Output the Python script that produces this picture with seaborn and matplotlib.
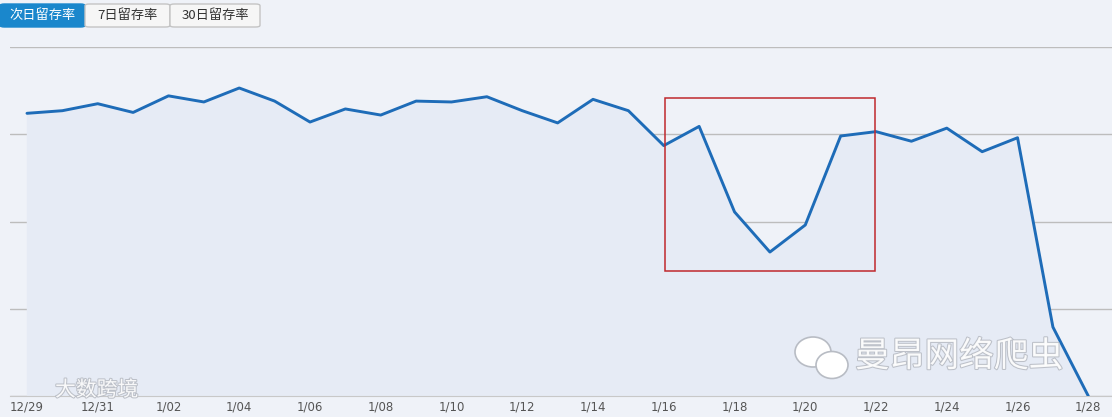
import numpy as np
import pandas as pd
import matplotlib
matplotlib.use('Agg')
import matplotlib.pyplot as plt
import matplotlib.patheffects as pe
from matplotlib.patches import Rectangle, FancyBboxPatch, Ellipse
import seaborn as sns

# data (y axis labels are cut off, units arbitrary 0-40)
dates = ['12/29', '12/30', '12/31', '1/01', '1/02', '1/03', '1/04', '1/05', '1/06', '1/07',
         '1/08', '1/09', '1/10', '1/11', '1/12', '1/13', '1/14', '1/15', '1/16', '1/17',
         '1/18', '1/19', '1/20', '1/21', '1/22', '1/23', '1/24', '1/25', '1/26', '1/27', '1/28']
retention = [32.4, 32.7, 33.5, 32.5, 34.4, 33.7, 35.3, 33.8, 31.4, 32.9,
             32.2, 33.8, 33.7, 34.3, 32.7, 31.3, 34.0, 32.7, 28.7, 30.9,
             21.1, 16.5, 19.6, 29.8, 30.3, 29.2, 30.7, 28.0, 29.6, 7.9, 0.0]
tabs = ['次日留存率', '7日留存率', '30日留存率']
y_grid = [0, 10, 20, 30, 40]

df = pd.DataFrame({'day': np.arange(len(dates)), 'value': retention})

sns.set_style('white')
plt.rcParams['font.family'] = ['Noto Sans CJK SC', 'DejaVu Sans']

fig = plt.figure(figsize=(11.12, 4.17), dpi=100)
fig.patch.set_facecolor('#eff2f8')
ax = fig.add_axes([10 / 1112, 21 / 417, 1102 / 1112, 349 / 417])
ax.set_facecolor('#eff2f8')

ax.fill_between(df['day'], df['value'], 0, color='#e6ebf5', zorder=1)
sns.lineplot(data=df, x='day', y='value', ax=ax, color='#1e6cb8', linewidth=2.1, zorder=3)

ax.set_xlim(-0.48, 30.67)
ax.set_ylim(0, 40)
ax.set_yticks(y_grid)
ax.set_yticklabels([])
ax.grid(axis='y', color='#bdbdbd', linewidth=1)
ax.tick_params(axis='y', length=0)
ax.set_xticks(df['day'][::2])
ax.set_xticklabels(dates[::2], fontsize=8.5, color='#555555', family='DejaVu Sans')
ax.tick_params(axis='x', length=3, color='#c8c8c8', pad=3, direction='in')
ax.set_xlabel('')
ax.set_ylabel('')
for side in ['top', 'right', 'left']:
    ax.spines[side].set_visible(False)
ax.spines['bottom'].set_color('#c8c8c8')

# red highlight box around the dip
ax.add_patch(Rectangle((18.04, 14.33), 5.93, 19.82, fill=False, edgecolor='#c0282d', linewidth=1.1, zorder=4))

# tab buttons on top
tab_x = [0, 85, 170]
tab_w = [85, 85, 90]
for i, t in enumerate(tabs):
    active = i == 0
    box = FancyBboxPatch((tab_x[i] / 1112, 1 - 27 / 417), tab_w[i] / 1112, 23 / 417,
                         boxstyle='round,pad=0,rounding_size=0.004', transform=fig.transFigure,
                         facecolor='#1a87cc' if active else '#f6f6f6',
                         edgecolor='#1a87cc' if active else '#c4c4c4', linewidth=1)
    fig.add_artist(box)
    fig.text((tab_x[i] + tab_w[i] / 2) / 1112, 1 - 15.5 / 417, t, ha='center', va='center',
             fontsize=9.5, color='white' if active else '#333333')

# watermarks
shadow = [pe.withStroke(linewidth=1.5, foreground='#b8bcc4')]
fig.text(55 / 1112, 1 - 390 / 417, '大数跨境', fontsize=15, color='white', va='center',
         path_effects=shadow, alpha=0.9)
fig.text(855 / 1112, 1 - 357 / 417, '曼昂网络爬虫', fontsize=25, color='white', va='center',
         path_effects=shadow, alpha=0.9)
# wechat-like bubbles
for cx, cy, w, h in [(813, 352, 36, 30), (832, 365, 32, 27)]:
    fig.add_artist(Ellipse((cx / 1112, 1 - cy / 417), w / 1112, h / 417, transform=fig.transFigure,
                           facecolor='white', edgecolor='#b8bcc4', linewidth=1.2, zorder=5))

fig.savefig('out.png', dpi=100, facecolor=fig.get_facecolor())
